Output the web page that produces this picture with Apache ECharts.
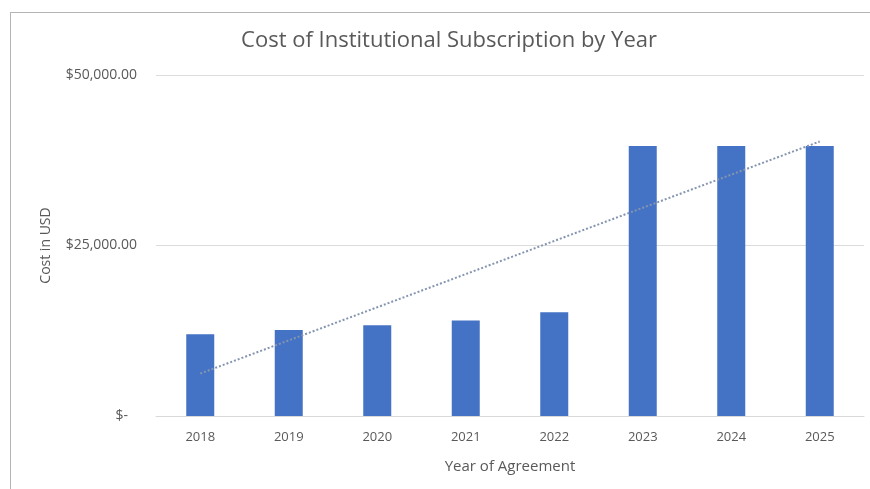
<!DOCTYPE html>
<html><head><meta charset="utf-8">
<script src="https://cdn.jsdelivr.net/npm/echarts@6/dist/echarts.min.js"></script>
<style>html,body{margin:0;padding:0;background:#fff}#c{width:870px;height:489px}</style>
</head><body><div id="c"></div>
<script>
const years = ['2018','2019','2020','2021','2022','2023','2024','2025'];
const costs = [12000, 12600, 13300, 14000, 15200, 39600, 39600, 39600];
const yTicks = [0, 25000, 50000];

// linear trendline (least squares) computed from the data
const n = costs.length;
const xs = costs.map((_, i) => i + 1);
const mx = xs.reduce((a, b) => a + b, 0) / n;
const my = costs.reduce((a, b) => a + b, 0) / n;
let sxy = 0, sxx = 0;
xs.forEach((x, i) => { sxy += (x - mx) * (costs[i] - my); sxx += (x - mx) * (x - mx); });
const slope = sxy / sxx, icpt = my - slope * mx;
const trend = xs.map(x => icpt + slope * x);

const FONT = "'Open Sans', sans-serif";
const chart = echarts.init(document.getElementById('c'));
chart.setOption({
  animation: false,
  backgroundColor: '#fff',
  graphic: [
    { type: 'line', shape: { x1: 10.5, y1: 12, x2: 10.5, y2: 489 }, style: { stroke: '#b4b4b4', lineWidth: 1 } },
    { type: 'line', shape: { x1: 10, y1: 12.5, x2: 870, y2: 12.5 }, style: { stroke: '#b4b4b4', lineWidth: 1 } }
  ],
  title: {
    text: 'Cost of Institutional Subscription by Year',
    left: 444, top: 25, textAlign: 'center',
    textStyle: { fontFamily: FONT, fontSize: 22, fontWeight: 'normal', color: '#595959' }
  },
  grid: { left: 156, right: 6, top: 75, bottom: 73 },
  xAxis: {
    type: 'category', data: years,
    name: 'Year of Agreement', nameLocation: 'middle', nameGap: 43,
    nameTextStyle: { fontFamily: FONT, fontSize: 15, color: '#595959' },
    axisLine: { lineStyle: { color: '#d9d9d9' } },
    axisTick: { show: false },
    axisLabel: { fontFamily: FONT, fontSize: 13, color: '#595959', margin: 15 }
  },
  yAxis: {
    type: 'value', min: 0, max: 50000, interval: 25000,
    name: 'Cost in USD', nameLocation: 'middle', nameGap: 103, nameRotate: 90,
    nameTextStyle: { fontFamily: FONT, fontSize: 14, color: '#595959' },
    axisLine: { show: false }, axisTick: { show: false },
    splitLine: { lineStyle: { color: '#dcdcdc' } },
    axisLabel: {
      fontFamily: FONT, fontSize: 14, color: '#595959', margin: 19,
      formatter: v => v === 0 ? '{z|$-}' : '$' + v.toLocaleString('en-US', { minimumFractionDigits: 2, maximumFractionDigits: 2 }),
      rich: { z: { fontFamily: FONT, fontSize: 14, color: '#595959', padding: [0, 9, 0, 0] } }
    }
  },
  series: [
    { type: 'bar', data: costs, barWidth: 28, itemStyle: { color: '#4472C4' } },
    { type: 'line', data: trend, symbol: 'none', z: 5,
      lineStyle: { color: '#8595b0', width: 2, type: [2, 2] } }
  ]
});
</script></body></html>
